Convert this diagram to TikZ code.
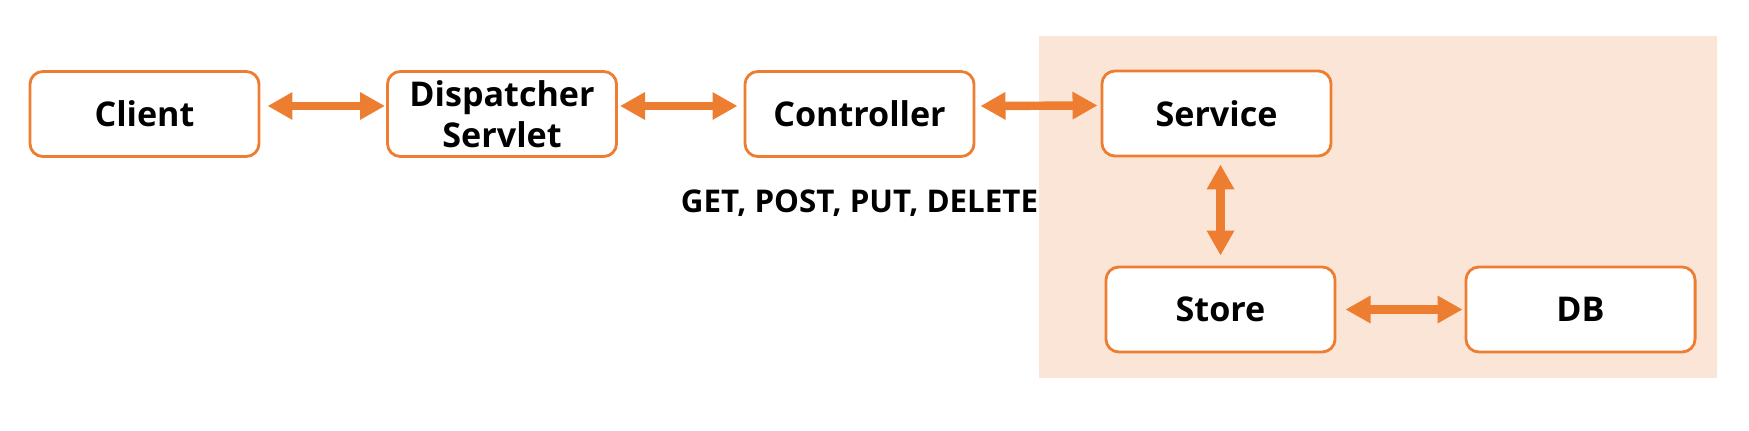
\documentclass[tikz,border=0pt]{standalone}
\usepackage{fontspec}
\setmainfont{Open Sans}
\usetikzlibrary{arrows.meta,positioning}
\definecolor{boxline}{HTML}{ED7D31}
\definecolor{layerbg}{HTML}{FBE5D6}
\begin{document}
\begin{tikzpicture}[x=0.01cm, y=-0.01cm, line join=round,
	box/.style={draw=boxline, line width=0.8pt, fill=white, rounded corners=0.13cm,
		minimum width=2.29cm, minimum height=0.85cm, align=center,
		font=\fontsize{9.7}{11.6}\selectfont\bfseries, inner sep=0pt},
	link/.style={draw=boxline, line width=2.4pt,
		{Triangle[length=0.25cm,width=0.26cm]}-{Triangle[length=0.25cm,width=0.26cm]}}]
	\useasboundingbox (0,0) rectangle (1749,431);
	% service layer
	\fill[layerbg] (1039,36) rectangle (1717,378);
	\path
	(144.5,114) node[box] (cl) {Client}
	(502,114) node[box] (ds) {Dispatcher\\Servlet}
	(859.5,114) node[box] (ct) {Controller}
	(1216.5,113.5) node[box] (sv) {Service}
	(1220.5,309.5) node[box] (st) {Store}
	(1580.5,309.5) node[box] (db) {DB};
	\node[below=0.55cm of ct.south, anchor=base, font=\fontsize{8.9}{10}\selectfont\bfseries]
	(mt) {GET, POST, PUT, DELETE};
	\draw[link] ([xshift=0.07cm,yshift=0.08cm]cl.east) -- ([xshift=-0.01cm,yshift=0.08cm]ds.west);
	\draw[link] ([xshift=0.02cm,yshift=0.08cm]ds.east) -- ([xshift=-0.06cm,yshift=0.08cm]ct.west);
	\draw[link] ([xshift=0.05cm,yshift=0.08cm]ct.east) -- ([xshift=-0.03cm,yshift=0.08cm]sv.west);
	\draw[link] ([yshift=-0.07cm]sv.south -| st.north) -- ([yshift=0.1cm]st.north);
	\draw[link] ([xshift=0.09cm]st.east) -- ([xshift=-0.02cm]db.west);
\end{tikzpicture}
\end{document}
